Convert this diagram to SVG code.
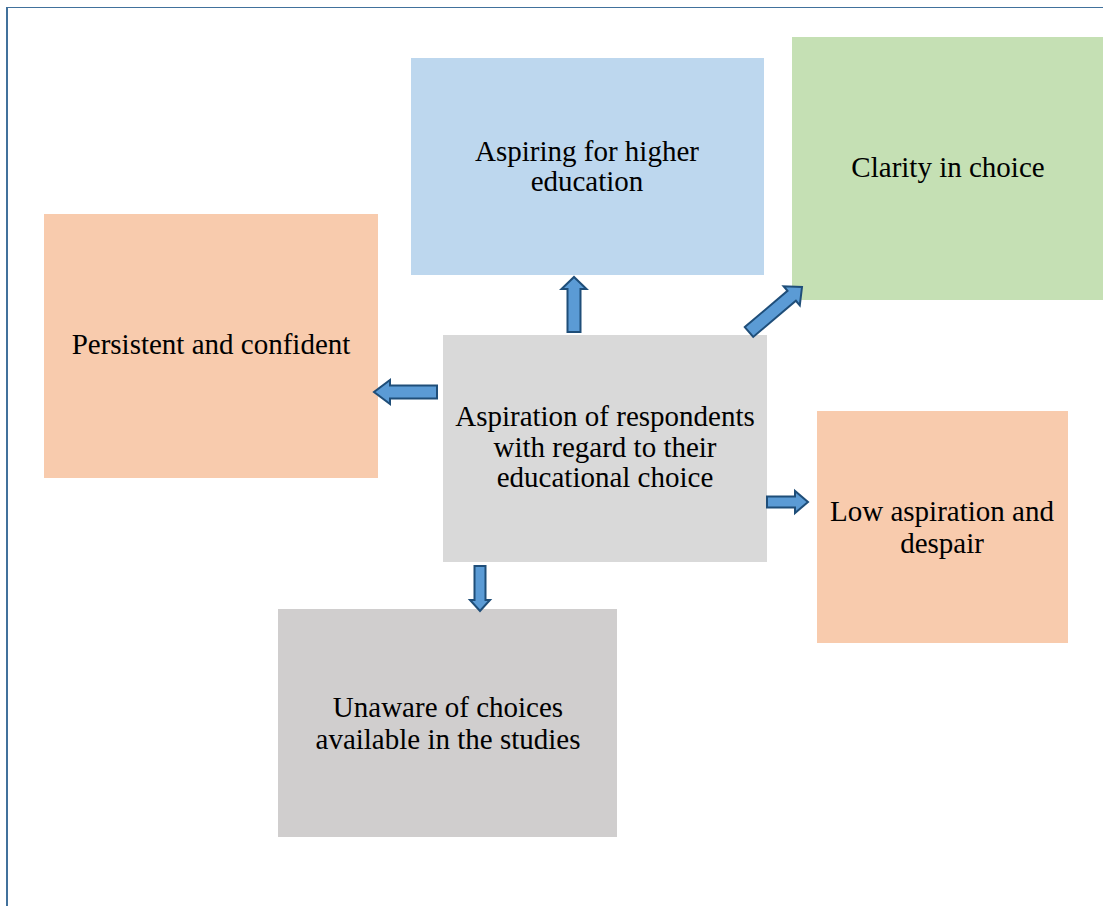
<svg xmlns="http://www.w3.org/2000/svg" width="1103" height="906" viewBox="0 0 1103 906">
<style>
.t{font-family:"Liberation Serif","Times New Roman",serif;font-size:29px;fill:#000;text-anchor:middle}
.arr{fill:#5B9BD5;stroke:#1F4E79;stroke-width:2;stroke-linejoin:miter}
</style>
<rect width="1103" height="906" fill="#fff"/>
<g id="frame">
<line x1="6" y1="7.5" x2="1103" y2="7.5" stroke="#41719C" stroke-width="1.2"/>
<line x1="7" y1="7" x2="7" y2="906" stroke="#41719C" stroke-width="2"/>
</g>
<g id="node-aspiring">
<rect x="411" y="58" width="353" height="217" fill="#BDD7EE"/>
<text class="t" x="587" y="161">Aspiring for higher</text>
<text class="t" x="587" y="191">education</text>
</g>
<g id="node-clarity">
<rect x="792" y="37" width="311" height="263" fill="#C5E0B4"/>
<text class="t" x="948" y="177">Clarity in choice</text>
</g>
<g id="node-persistent">
<rect x="44" y="214" width="334" height="264" fill="#F8CBAD"/>
<text class="t" x="211" y="354">Persistent and confident</text>
</g>
<g id="node-center">
<rect x="443" y="335" width="324" height="227" fill="#D9D9D9"/>
<text class="t" x="605" y="426">Aspiration of respondents</text>
<text class="t" x="605" y="457">with regard to their</text>
<text class="t" x="605" y="487">educational choice</text>
</g>
<g id="node-low">
<rect x="817" y="411" width="251" height="232" fill="#F8CBAD"/>
<text class="t" x="942" y="521">Low aspiration and</text>
<text class="t" x="942" y="553">despair</text>
</g>
<g id="node-unaware">
<rect x="278" y="609" width="339" height="228" fill="#D0CECE"/>
<text class="t" x="448" y="717">Unaware of choices</text>
<text class="t" x="448" y="749">available in the studies</text>
</g>
<g id="connectors">
<path class="arr" d="M567.5,332 V289 H561.5 L574,277 L586.5,289 H580.5 V332 Z"/>
<path class="arr" d="M437,385.5 H390 V380 L374,392 L390,404 V398.5 H437 Z"/>
<path class="arr" d="M767,496.5 H795 V491 L808,502 L795,513 V507.5 H767 Z"/>
<path class="arr" d="M474.5,566 V600 H470 L480,611 L490,600 H485.5 V566 Z"/>
<path class="arr" transform="translate(749,332) rotate(-40.3)" d="M0,-6.5 H56 V-12.5 L69.5,0 L56,12.5 V6.5 H0 Z"/>
</g>
</svg>
